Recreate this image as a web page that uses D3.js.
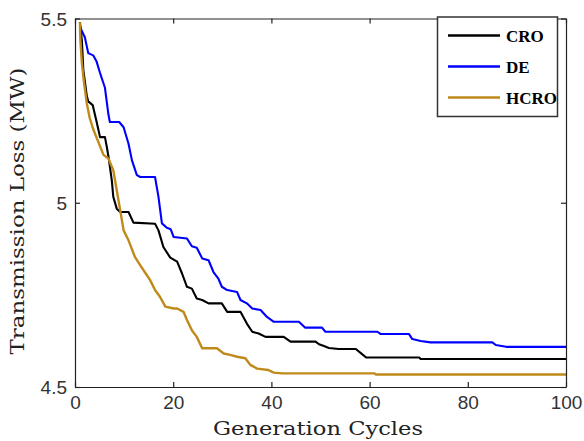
<!DOCTYPE html>
<html>
<head>
<meta charset="utf-8">
<script src="https://cdn.jsdelivr.net/npm/d3@7"></script>
<style>
  body { margin: 0; background: #fff; }
  svg { display: block; }
</style>
</head>
<body>
<svg id="chart" width="584" height="441"></svg>
<script>
// DATA (breakpoints)
const croGen = [1, 1.4, 1.7, 2.4, 2.7, 3.6, 4.4, 4.9, 5.1, 6.1, 6.5, 6.9, 7.5, 7.8, 8.5, 9.2, 10.9, 11.9, 16.3, 17, 18, 19.4, 20.8, 21.8, 22.8, 23.8, 24.8, 25.9, 27.2, 29.9, 31, 33.7, 35, 36.1, 37.4, 38.8, 42.5, 43.9, 49, 49.7, 50.7, 51.7, 53.7, 57.2, 58.4, 59.3, 70.1, 70.4, 100];
const croLoss = [5.49, 5.44, 5.36, 5.29, 5.275, 5.265, 5.22, 5.19, 5.178, 5.178, 5.15, 5.118, 5.06, 5.016, 4.984, 4.975, 4.975, 4.946, 4.943, 4.925, 4.88, 4.851, 4.84, 4.808, 4.772, 4.767, 4.74, 4.736, 4.727, 4.727, 4.704, 4.704, 4.672, 4.65, 4.645, 4.636, 4.636, 4.623, 4.623, 4.616, 4.611, 4.606, 4.603, 4.603, 4.59, 4.58, 4.58, 4.576, 4.576];

const deGen = [1, 1.2, 2, 2.7, 3.7, 4.4, 5.1, 6.1, 6.8, 7.1, 9, 9.9, 10.9, 11.6, 12.6, 13.3, 16.3, 17, 17.7, 18.7, 19.5, 20.1, 22.8, 23.8, 24.8, 25.9, 27.2, 28.2, 29.2, 29.9, 31, 33, 33.7, 35, 36.1, 37.8, 39.1, 40.5, 45.6, 46.9, 50.3, 51, 61.6, 62.2, 68, 68.7, 70.4, 72.4, 85, 85.7, 87.8, 100];
const deLoss = [5.48, 5.472, 5.449, 5.406, 5.4, 5.383, 5.352, 5.312, 5.24, 5.219, 5.219, 5.205, 5.16, 5.115, 5.075, 5.07, 5.07, 5.016, 4.944, 4.932, 4.928, 4.907, 4.903, 4.882, 4.878, 4.849, 4.844, 4.812, 4.794, 4.772, 4.763, 4.758, 4.736, 4.727, 4.713, 4.709, 4.69, 4.677, 4.677, 4.661, 4.661, 4.65, 4.65, 4.644, 4.644, 4.63, 4.625, 4.621, 4.621, 4.614, 4.609, 4.609];

const hcroGen = [1, 1.1, 1.4, 1.8, 2.4, 3, 3.7, 4.6, 5.8, 6.8, 7.8, 8.5, 9.2, 9.9, 10.9, 12.2, 13.3, 14.3, 15.3, 16.3, 17.3, 18.4, 20.1, 20.8, 22.1, 22.8, 23.8, 24.8, 25.9, 28.9, 30.3, 31.6, 33, 34.7, 35.7, 37.1, 39.4, 40.5, 42.2, 61, 61.3, 100];
const hcroLoss = [5.49, 5.44, 5.38, 5.33, 5.27, 5.23, 5.2, 5.17, 5.13, 5.12, 5.088, 5.034, 4.98, 4.925, 4.898, 4.853, 4.83, 4.81, 4.79, 4.763, 4.745, 4.718, 4.713, 4.713, 4.704, 4.682, 4.654, 4.636, 4.605, 4.605, 4.591, 4.587, 4.582, 4.578, 4.56, 4.55, 4.546, 4.539, 4.537, 4.537, 4.534, 4.534];

const xTicks = [0, 20, 40, 60, 80, 100];
const yTicks = [4.5, 5, 5.5];
const seriesNames = ['CRO', 'DE', 'HCRO'];
const seriesColors = ['#000000', '#0000ff', '#bf8a19'];

// BUILD SERIES
const series = [
  {name: seriesNames[0], color: seriesColors[0], points: croGen.map((g, i) => [g, croLoss[i]])},
  {name: seriesNames[1], color: seriesColors[1], points: deGen.map((g, i) => [g, deLoss[i]])},
  {name: seriesNames[2], color: seriesColors[2], points: hcroGen.map((g, i) => [g, hcroLoss[i]])}
];

// PLOT AREA
const plot = {left: 75, right: 566, top: 18.5, bottom: 387};
const svg = d3.select('#chart');

const x = d3.scaleLinear().domain([0, 100]).range([plot.left, plot.right]);
const y = d3.scaleLinear().domain([4.5, 5.5]).range([plot.bottom, plot.top]);

// LINES (DE below, HCRO on top)
const line = d3.line()
  .x(d => x(d[0]))
  .y(d => y(d[1]));

const drawOrder = [1, 0, 2];
drawOrder.forEach(i => {
  svg.append('path')
    .datum(series[i].points)
    .attr('fill', 'none')
    .attr('stroke', series[i].color)
    .attr('stroke-width', i == 2 ? 2.4 : 2.1)
    .attr('stroke-linejoin', 'round')
    .attr('d', line);
});

// AXES (inward ticks, mirrored on every side)
const tickColor = '#222';
const xAxis = d3.axisBottom(x).tickValues(xTicks).tickSizeInner(-5).tickSizeOuter(0).tickPadding(9).tickFormat(d3.format('d'));
const xAxisTop = d3.axisTop(x).tickValues(xTicks).tickSizeInner(-5).tickSizeOuter(0).tickFormat('');
const yAxis = d3.axisLeft(y).tickValues(yTicks).tickSizeInner(-5).tickSizeOuter(0).tickPadding(8).tickFormat(d => d == 5 ? '5' : d3.format('.1f')(d));
const yAxisRight = d3.axisRight(y).tickValues(yTicks).tickSizeInner(-5).tickSizeOuter(0).tickFormat('');

svg.append('g').attr('class', 'x axis').attr('transform', `translate(0,${plot.bottom})`).call(xAxis);
svg.append('g').attr('class', 'x axis top').attr('transform', `translate(0,${plot.top})`).call(xAxisTop);
svg.append('g').attr('class', 'y axis').attr('transform', `translate(${plot.left},0)`).call(yAxis);
svg.append('g').attr('class', 'y axis right').attr('transform', `translate(${plot.right},0)`).call(yAxisRight);

svg.selectAll('.axis path, .axis line').attr('stroke', tickColor).attr('stroke-width', 1.2);
svg.selectAll('.axis text')
  .attr('fill', '#333')
  .style('font-family', '"Liberation Sans", Arial, sans-serif')
  .style('font-size', '19px');
svg.selectAll('.y.axis text').attr('dy', '0.35em');

// AXIS LABELS
svg.append('text')
  .attr('x', 318)
  .attr('y', 435)
  .attr('text-anchor', 'middle')
  .attr('textLength', 210)
  .attr('lengthAdjust', 'spacingAndGlyphs')
  .style('font-family', '"DejaVu Serif", serif')
  .style('font-size', '18px')
  .attr('fill', '#222')
  .text('Generation Cycles');

svg.append('text')
  .attr('transform', 'translate(24,211) rotate(-90)')
  .attr('text-anchor', 'middle')
  .attr('textLength', 287)
  .attr('lengthAdjust', 'spacingAndGlyphs')
  .style('font-family', '"DejaVu Serif", serif')
  .style('font-size', '18px')
  .attr('fill', '#222')
  .text('Transmission Loss (MW)');

// LEGEND
const legend = svg.append('g').attr('class', 'legend');
legend.append('rect')
  .attr('x', 437.5).attr('y', 17)
  .attr('width', 120).attr('height', 99.5)
  .attr('fill', '#fff')
  .attr('stroke', '#333')
  .attr('stroke-width', 1.5);

const legendY = d3.scalePoint().domain(seriesNames).range([35.5, 97.5]);
series.forEach(s => {
  legend.append('line')
    .attr('x1', 448).attr('x2', 500)
    .attr('y1', legendY(s.name)).attr('y2', legendY(s.name))
    .attr('stroke', s.color)
    .attr('stroke-width', 2.4);
  legend.append('text')
    .attr('x', 506)
    .attr('y', legendY(s.name) + 6)
    .style('font-family', '"Liberation Serif", "Times New Roman", serif')
    .style('font-weight', 'bold')
    .style('font-size', '17px')
    .attr('fill', '#000')
    .text(s.name);
});
</script>
</body>
</html>
